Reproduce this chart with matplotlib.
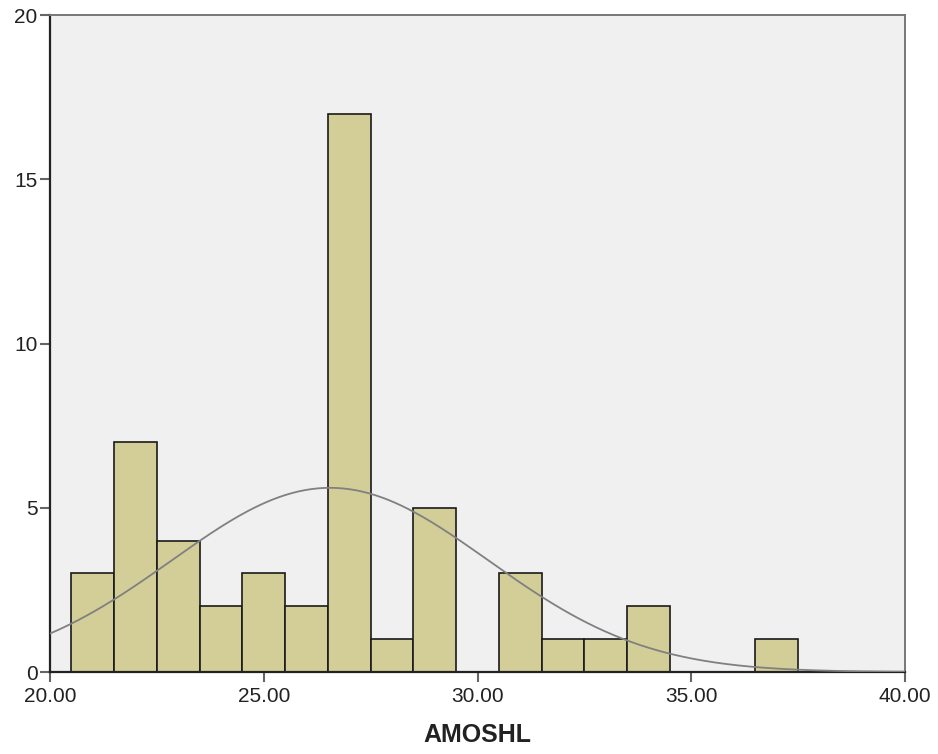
import numpy as np
import matplotlib.pyplot as plt

plt.rcParams['font.family'] = ['Liberation Sans', 'DejaVu Sans']

# histogram bins (centers) and counts
bin_centers = [21, 22, 23, 24, 25, 26, 27, 28, 29, 30, 31, 32, 33, 34, 35, 36, 37]
counts = [3, 7, 4, 2, 3, 2, 17, 1, 5, 0, 3, 1, 1, 2, 0, 0, 1]
bin_width = 1.0

# normal curve parameters
mean_val = 26.55
sd_val = 3.7

xticks = [20, 25, 30, 35, 40]
yticks = [0, 5, 10, 15, 20]

fig = plt.figure(figsize=(9.38, 7.54), dpi=100)
ax = fig.add_axes([50/938, 82/754, 855/938, 657/754])
ax.set_facecolor("#F0F0F0")

ax.bar(bin_centers, counts, width=bin_width, color="#D3CE97",
       edgecolor="#1a1a1a", linewidth=1.2, zorder=2)

n = sum(counts)
xs = np.linspace(20, 40, 400)
ys = n * bin_width / (sd_val * np.sqrt(2 * np.pi)) * np.exp(-(xs - mean_val) ** 2 / (2 * sd_val ** 2))
ax.plot(xs, ys, color="#808080", linewidth=1.3, zorder=3)

ax.set_xlim(20, 40)
ax.set_ylim(0, 20)
ax.set_xticks(xticks)
ax.set_xticklabels(["%.2f" % t for t in xticks])
ax.set_yticks(yticks)
ax.tick_params(axis="both", direction="out", length=7, width=1.5, color="#666666",
               labelsize=15, labelcolor="#222222", pad=2)
ax.tick_params(axis="x", pad=4)

for s in ["left", "bottom"]:
    ax.spines[s].set_color("#222222")
    ax.spines[s].set_linewidth(1.6)
for s in ["top", "right"]:
    ax.spines[s].set_color("#777777")
    ax.spines[s].set_linewidth(1.4)

ax.set_xlabel("AMOSHL", fontsize=18, fontweight="bold", color="#222222", labelpad=12)

fig.savefig("out.png", dpi=100)
